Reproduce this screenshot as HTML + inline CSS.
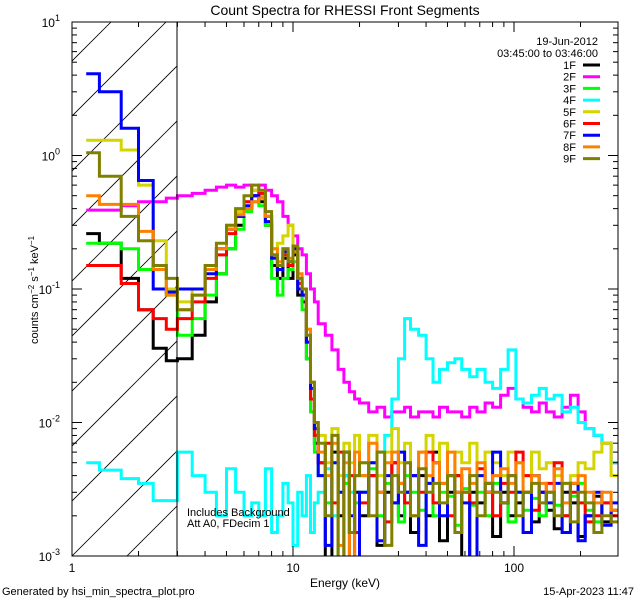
<!DOCTYPE html>
<html><head><meta charset="utf-8"><style>
body{margin:0;background:#fff;}
svg{display:block;font-family:"Liberation Sans",sans-serif;}
</style></head><body>
<svg id="chart" width="640" height="600" viewBox="0 0 640 600" xmlns="http://www.w3.org/2000/svg">
<rect width="640" height="600" fill="#fff"/>
<defs><clipPath id="pc"><rect x="72" y="22" width="546" height="534"/></clipPath>
<clipPath id="hc"><rect x="72" y="22" width="105" height="534"/></clipPath></defs>
<g id="hatch" clip-path="url(#hc)"></g>
<g id="series" clip-path="url(#pc)"></g>
<g id="axes"></g>
<text x="345" y="15" font-size="14" text-anchor="middle">Count Spectra for RHESSI Front Segments</text>
<text x="345" y="587" font-size="12" text-anchor="middle">Energy (keV)</text>
<text transform="translate(38,290) rotate(-90)" font-size="11" text-anchor="middle">counts cm<tspan dy="-4" font-size="8">−2</tspan><tspan dy="4"> s</tspan><tspan dy="-4" font-size="8">−1</tspan><tspan dy="4"> keV</tspan><tspan dy="-4" font-size="8">−1</tspan></text>
<text x="187" y="516" font-size="11">Includes Background</text>
<text x="187" y="527" font-size="11">Att A0, FDecim 1</text>
<text x="2" y="595" font-size="11">Generated by hsi_min_spectra_plot.pro</text>
<text x="634" y="595" font-size="11" text-anchor="end">15-Apr-2023 11:47</text>
<text x="598" y="45" font-size="11" text-anchor="end">19-Jun-2012</text>
<text x="598" y="57" font-size="11" text-anchor="end">03:45:00 to 03:46:00</text>
<g id="legend"></g>
</svg>
<script>
const edges=[1.16,1.33,1.67,2,2.33,2.67,3,3.5,4,4.5,5,5.5,6,6.5,7,7.5,8,8.5,9,9.5,10,10.5,11,11.5,12,12.5,13,14,15,16,17,18,19,20,22,24,26,28,30,32,34,37,40,43,46,50,54,58,63,68,74,80,87,94,102,110,120,130,140,152,165,180,195,210,230,250,275,300];
const seriesNames=["1F","2F","3F","4F","5F","6F","7F","8F","9F"];
const s1F=[0.26,0.22,0.12,0.07,0.036,0.029, 0.03,0.045,0.08,0.13,0.2,0.3,0.4,0.5,0.45,0.3,0.15,0.12,0.17,0.12,0.18,0.09,0.08,0.03,0.015,0.007, 0.005,0.0009,0.006,0.002,0.004,0.0015,0.003, 0.002,0.004,0.0012,0.003,0.005,0.002,0.003,0.0015,0.004,0.002,0.006,0.0013,0.003,0.004,0.0009,0.003,0.0025,0.0035,0.0014,0.003,0.002,0.0025,0.003,0.0018,0.003,0.0022,0.0016,0.003,0.0025,0.0014,0.002,0.0028,0.0018,0.0022];
const s2F=[0.39,0.39,0.42,0.45,0.45,0.48, 0.5,0.52,0.55,0.58,0.6,0.58,0.6,0.55,0.6,0.55,0.5,0.45,0.35,0.3,0.25,0.2,0.18,0.13,0.1,0.08, 0.055,0.045,0.035,0.025,0.02,0.017,0.015, 0.014,0.012,0.013,0.011,0.012,0.012,0.013,0.011,0.012,0.012,0.011,0.013,0.012,0.012,0.011,0.013,0.012,0.014,0.013,0.016,0.018,0.015,0.013,0.012,0.014,0.012,0.011,0.013,0.016,0.012,0.009,0.008,0.007,0.005];
const s3F=[0.22,0.22,0.2,0.14,0.15,0.09, 0.045,0.06,0.09,0.13,0.2,0.28,0.38,0.45,0.42,0.3,0.12,0.09,0.12,0.14,0.16,0.1,0.07,0.03,0.012,0.006, 0.004,0.0025,0.005,0.0009,0.0035,0.003,0.0025, 0.003,0.0045,0.002,0.0035,0.0025,0.0018,0.004,0.003,0.0022,0.0035,0.002,0.003,0.0028,0.0017,0.0032,0.0024,0.003,0.002,0.0035,0.0025,0.0018,0.003,0.0022,0.0027,0.002,0.003,0.0024,0.002,0.0028,0.0035,0.0022,0.0018,0.0025,0.002];
const s4F=[0.005,0.0044,0.0038,0.0035,0.0026,0.0026, 0.006,0.004,0.003,0.002,0.0045,0.003,0.002,0.0025,0.002,0.0045,0.0015,0.002,0.0035,0.0025,0.0012,0.003,0.002,0.004,0.0015,0.0025, 0.003,0.0045,0.002,0.003,0.004,0.003,0.004, 0.004,0.005,0.006,0.008,0.015,0.03,0.06,0.05,0.045,0.03,0.02,0.025,0.028,0.03,0.025,0.022,0.025,0.02,0.018,0.025,0.035,0.015,0.014,0.016,0.018,0.015,0.016,0.012,0.013,0.01,0.009,0.008,0.007,0.005];
const s5F=[1.3,1.3,1.1,0.6,0.23,0.1, 0.08,0.1,0.14,0.2,0.3,0.38,0.45,0.55,0.5,0.35,0.2,0.22,0.25,0.3,0.2,0.12,0.1,0.05,0.02,0.01, 0.008,0.005,0.009,0.004,0.007,0.005,0.008, 0.005,0.008,0.004,0.006,0.009,0.005,0.007,0.004,0.006,0.008,0.005,0.007,0.004,0.006,0.005,0.007,0.004,0.006,0.005,0.004,0.006,0.005,0.004,0.006,0.0045,0.005,0.004,0.0035,0.004,0.005,0.0045,0.006,0.007,0.004];
const s6F=[0.15,0.15,0.11,0.07,0.06,0.05, 0.06,0.08,0.12,0.18,0.26,0.35,0.45,0.5,0.52,0.35,0.18,0.14,0.18,0.15,0.2,0.11,0.09,0.04,0.015,0.008, 0.005,0.007,0.0025,0.006,0.0009,0.004,0.0015, 0.0025,0.004,0.003,0.0018,0.005,0.0035,0.0025,0.004,0.003,0.006,0.0025,0.0035,0.002,0.004,0.003,0.0025,0.0045,0.003,0.002,0.0035,0.003,0.006,0.004,0.0022,0.003,0.0035,0.005,0.002,0.003,0.0025,0.0018,0.002,0.0025,0.002];
const s7F=[4.1,3.0,1.6,0.65,0.1,0.095, 0.1,0.1,0.13,0.2,0.28,0.35,0.42,0.5,0.48,0.32,0.17,0.14,0.19,0.16,0.2,0.1,0.09,0.04,0.018,0.009, 0.004,0.0012,0.005,0.003,0.006,0.002,0.0009, 0.003,0.005,0.0013,0.004,0.0025,0.006,0.003,0.004,0.0012,0.0035,0.005,0.002,0.004,0.003,0.0025,0.0009,0.004,0.003,0.006,0.0025,0.004,0.003,0.0015,0.004,0.003,0.0025,0.0035,0.0015,0.0035,0.0013,0.002,0.003,0.0017,0.0025];
const s8F=[0.5,0.43,0.43,0.27,0.14,0.09, 0.07,0.09,0.14,0.2,0.28,0.36,0.4,0.45,0.48,0.35,0.2,0.16,0.2,0.17,0.19,0.13,0.1,0.05,0.02,0.01, 0.006,0.004,0.007,0.0012,0.005,0.0009,0.006, 0.004,0.007,0.003,0.005,0.006,0.0035,0.005,0.002,0.006,0.004,0.005,0.0035,0.006,0.003,0.0045,0.0035,0.005,0.003,0.004,0.0045,0.0035,0.005,0.003,0.004,0.0035,0.003,0.0045,0.0025,0.0035,0.004,0.003,0.0025,0.003,0.0022];
const s9F=[1.05,0.7,0.35,0.23,0.15,0.12, 0.07,0.09,0.15,0.22,0.3,0.4,0.5,0.6,0.55,0.38,0.18,0.15,0.2,0.16,0.21,0.12,0.1,0.045,0.02,0.01, 0.007,0.002,0.008,0.0009,0.006,0.0015,0.004, 0.005,0.002,0.006,0.0012,0.004,0.003,0.005,0.002,0.0045,0.003,0.0035,0.0025,0.004,0.0015,0.003,0.004,0.002,0.0035,0.003,0.0025,0.004,0.002,0.003,0.0035,0.0025,0.003,0.002,0.0035,0.0018,0.003,0.0025,0.0015,0.002,0.0018];
const seriesValues=[s1F,s2F,s3F,s4F,s5F,s6F,s7F,s8F,s9F];
const seriesColors=["#000000","#ff00ff","#00ff00","#00ffff","#d4d400","#ff0000","#0000ff","#ff8000","#808000"];
const yTickExponents=["1","0","-1","-2","-3"];
const xTickLabels=["1","10","100"];

const NS="http://www.w3.org/2000/svg";
const X0=72,X1=618,Y0=22,Y1=556,PXD=221,YD=(Y1-Y0)/4;
function xs(e){return X0+Math.log10(e)*PXD;}
function ys(v){return Y0+(1-Math.log10(v))*YD;}
function mk(tag,attrs,parent){const el=document.createElementNS(NS,tag);for(const k in attrs)el.setAttribute(k,attrs[k]);parent.appendChild(el);return el;}
const svg=document.getElementById('chart');
const hg=document.getElementById('hatch');
for(let k=-12;k<3;k++){const bx=72+k*55;const l=mk('line',{x1:bx,y1:556,x2:bx+600,y2:-44,stroke:'#000','stroke-width':0.8},hg);

}
const bl=mk('line',{x1:177,y1:22,x2:177,y2:556,stroke:'#000','stroke-width':1},svg);


const sg=document.getElementById('series');
seriesValues.forEach((vals,i)=>{
  let d='';
  for(let j=0;j<vals.length;j++){
    const xa=xs(edges[j]),xb=xs(edges[j+1]),y=Math.min(ys(Math.max(vals[j],1e-4)),600);
    d+=(j===0?'M':'L')+xa.toFixed(1)+','+y.toFixed(1)+'L'+xb.toFixed(1)+','+y.toFixed(1);
  }
  const p=mk('path',{d:d,fill:'none',stroke:seriesColors[i],'stroke-width':3,'stroke-linejoin':'miter'},sg);
  
  
});
const ag=document.getElementById('axes');
const fr=mk('rect',{x:X0,y:Y0,width:X1-X0,height:Y1-Y0,fill:'none',stroke:'#000','stroke-width':1},ag);


for(let dec=0;dec<3;dec++){for(let m=1;m<10;m++){const e=m*Math.pow(10,dec);const x=xs(e);if(x>X1)break;const L=m===1?10:5;
  mk('line',{x1:x,y1:Y1,x2:x,y2:Y1-L,stroke:'#000'},ag);mk('line',{x1:x,y1:Y0,x2:x,y2:Y0+L,stroke:'#000'},ag);}}
xTickLabels.forEach((t)=>{const tx=mk('text',{x:xs(+t),y:Y1+16,'font-size':12,'text-anchor':'middle'},ag);tx.textContent=t;

});
for(let p=-3;p<1;p++){for(let m=1;m<10;m++){const v=m*Math.pow(10,p);const y=ys(v);const L=m===1?10:5;
  mk('line',{x1:X0,y1:y,x2:X0+L,y2:y,stroke:'#000'},ag);mk('line',{x1:X1,y1:y,x2:X1-L,y2:y,stroke:'#000'},ag);}}
yTickExponents.forEach((t)=>{const y=ys(Math.pow(10,+t));const tx=mk('text',{x:60,y:y+5,'font-size':12,'text-anchor':'end'},ag);
tx.innerHTML='10<tspan dy="-6" font-size="9">'+t+'</tspan>';

});
const lg=document.getElementById('legend');


seriesNames.forEach((n,i)=>{const y=65+i*11.7;
  const t=mk('text',{x:576,y:y+4,'font-size':11,'text-anchor':'end'},lg);t.textContent=n;
  
  
  const l=mk('line',{x1:583,y1:y,x2:600,y2:y,stroke:seriesColors[i],'stroke-width':3},lg);
  
  });
</script>
</body></html>
